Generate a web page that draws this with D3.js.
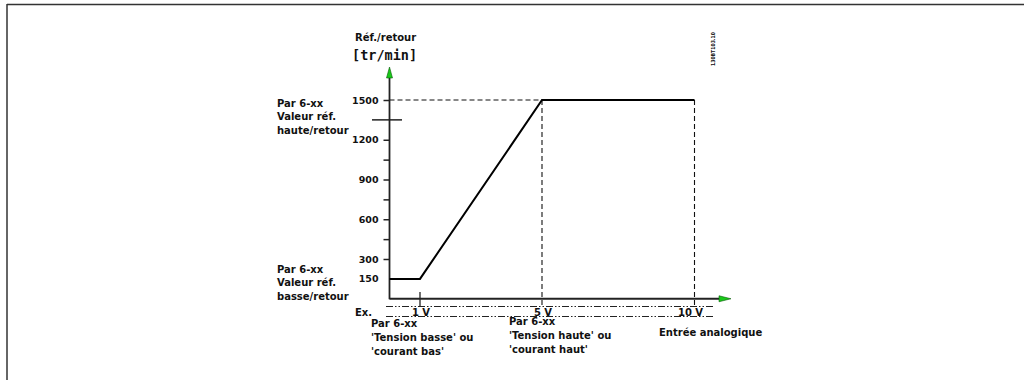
<!DOCTYPE html>
<html>
<head>
<meta charset="utf-8">
<script src="https://cdn.jsdelivr.net/npm/d3@7"></script>
<style>
html,body{margin:0;padding:0;background:#fff;}
svg text{font-family:"DejaVu Sans",sans-serif;fill:#111;}
</style>
</head>
<body>
<svg id="chart" width="1024" height="380"></svg>
<script>
// ---- data ----
const curveVolts = [0, 1, 5, 10];
const curveRpm = [150, 150, 1500, 1500];
const yTickValues = [150, 300, 600, 900, 1200, 1500];
const yMinorTicks = [450, 750, 1050];
const yCrossTick = [1350];
const xTickValues = [1, 5, 10];
const xTickLabels = ["1 V", "5 V", "10 V"];
const yTitle = ["Réf./retour", "[tr/min]"];
const highLabel = ["Par 6-xx", "Valeur réf.", "haute/retour"];
const lowLabel = ["Par 6-xx", "Valeur réf.", "basse/retour"];
const lowVoltLabel = ["Par 6-xx", "'Tension basse' ou", "'courant bas'"];
const highVoltLabel = ["Par 6-xx", "'Tension haute' ou", "'courant haut'"];
const xTitle = "Entrée analogique";
const docId = "130BT103.10";

const svg = d3.select("#chart");
const x = d3.scaleLinear().domain([0, 10]).range([389.5, 694.5]);
const y = d3.scaleLinear().domain([0, 1500]).range([298.75, 100]);
const x0 = x(0), y0 = y(0);

// frame
svg.append("line").attr("x1", 7).attr("y1", 4.5).attr("x2", 1024).attr("y2", 4.5)
  .attr("stroke", "#333").attr("stroke-width", 1.5);
svg.append("line").attr("x1", 7).attr("y1", 4).attr("x2", 7).attr("y2", 380)
  .attr("stroke", "#333").attr("stroke-width", 1.5);

// dashed guides
const dash = "5,3";
svg.append("line").attr("x1", x0).attr("x2", x(5)).attr("y1", y(1500)).attr("y2", y(1500))
  .attr("stroke", "#111").attr("stroke-width", 1.1).attr("stroke-dasharray", dash);
[5, 10].forEach(v => {
  svg.append("line").attr("x1", x(v)).attr("x2", x(v)).attr("y1", y(1500)).attr("y2", 307)
    .attr("stroke", "#111").attr("stroke-width", 1.1).attr("stroke-dasharray", dash);
});

// dash-dot strip below x axis
[306.5, 316.5].forEach(yy => {
  svg.append("line").attr("x1", 386).attr("x2", 714).attr("y1", yy).attr("y2", yy)
    .attr("stroke", "#222").attr("stroke-width", 1).attr("stroke-dasharray", "7,2,1.5,2,1.5,2");
});

// axes
svg.append("line").attr("x1", x0).attr("x2", x0).attr("y1", y0 + 0.5).attr("y2", 74)
  .attr("stroke", "#222").attr("stroke-width", 1.8);
svg.append("line").attr("x1", x0).attr("x2", 722).attr("y1", y0).attr("y2", y0)
  .attr("stroke", "#222").attr("stroke-width", 1.8);
// arrow heads (green)
svg.append("path")
  .attr("d", `M${x0},67 L${x0 - 3},78 L${x0 + 3},78 Z`)
  .attr("fill", "#19c919").attr("stroke", "#0a5a0a").attr("stroke-width", 0.6);
svg.append("path")
  .attr("d", `M731,${y0} L719,${y0 - 3} L719,${y0 + 3} Z`)
  .attr("fill", "#19c919").attr("stroke", "#0a5a0a").attr("stroke-width", 0.6);

// y ticks via d3 axis
const yAxis = d3.axisLeft(y).tickValues(yTickValues).tickSize(6).tickPadding(5)
  .tickFormat(d3.format("d"));
const gy = svg.append("g").attr("transform", `translate(${x0},0)`).call(yAxis);
gy.select(".domain").remove();
gy.selectAll(".tick line").attr("stroke", "#222").attr("stroke-width", 1.5);
gy.selectAll(".tick text").style("font-size", "9.5px").style("font-weight", "bold")
  .style("font-family", "DejaVu Sans, sans-serif").attr("fill", "#111");
gy.selectAll(".tick").filter(d => d === 150).select("line").remove();

const gm = svg.append("g").attr("transform", `translate(${x0},0)`)
  .call(d3.axisLeft(y).tickValues(yMinorTicks).tickSize(6).tickFormat(""));
gm.select(".domain").remove();
gm.selectAll(".tick line").attr("stroke", "#222").attr("stroke-width", 1.5);

svg.selectAll(".cross").data(yCrossTick).enter().append("line")
  .attr("x1", 372).attr("x2", 402).attr("y1", d => y(d)).attr("y2", d => y(d))
  .attr("stroke", "#222").attr("stroke-width", 1.5);

// x tick at 1 V
svg.append("line").attr("x1", x(1)).attr("x2", x(1)).attr("y1", 292).attr("y2", 306)
  .attr("stroke", "#222").attr("stroke-width", 1.3);

// x tick labels
const xOffsets = [1, 1, -4];
svg.selectAll(".xl").data(xTickValues).enter().append("text")
  .attr("x", (d, i) => x(d) + xOffsets[i]).attr("y", 315.5)
  .attr("text-anchor", "middle").style("font-size", "10px").style("font-weight", "bold")
  .text((d, i) => xTickLabels[i]);
svg.append("text").attr("x", 355).attr("y", 315.5).style("font-size", "10px")
  .style("font-weight", "bold").text("Ex.");

// curve
const line = d3.line().x(d => x(d[0])).y(d => y(d[1]));
svg.append("path").datum(curveVolts.map((v, i) => [v, curveRpm[i]]))
  .attr("d", line).attr("fill", "none").attr("stroke", "#000").attr("stroke-width", 2);

// titles
svg.append("text").attr("x", 355).attr("y", 41).style("font-size", "10px")
  .style("font-weight", "bold").text(yTitle[0]);
svg.append("text").attr("x", 352).attr("y", 60).style("font-size", "13.5px")
  .style("font-family", "DejaVu Sans Mono, monospace").style("font-weight", "bold").text(yTitle[1]);

function block(lines, x0, yStart, step, size) {
  lines.forEach((t, i) => {
    svg.append("text").attr("x", x0).attr("y", yStart + i * step)
      .style("font-size", size || "10px").style("font-weight", "bold").text(t);
  });
}
block(highLabel, 277, 106.5, 13.5);
block(lowLabel, 277, 272.5, 13.5);
block(lowVoltLabel, 371, 326.5, 14.2);
block(highVoltLabel, 509, 325, 14.2);
svg.append("text").attr("x", 659).attr("y", 335.5).style("font-size", "10px")
  .style("font-weight", "bold").text(xTitle);

// document id (rotated)
svg.append("text").attr("transform", "translate(714.5,66) rotate(-90)")
  .style("font-size", "5.5px").style("font-weight", "bold")
  .style("font-family", "DejaVu Sans Condensed, DejaVu Sans, sans-serif")
  .attr("textLength", 34).attr("lengthAdjust", "spacingAndGlyphs").text(docId);
</script>
</body>
</html>
